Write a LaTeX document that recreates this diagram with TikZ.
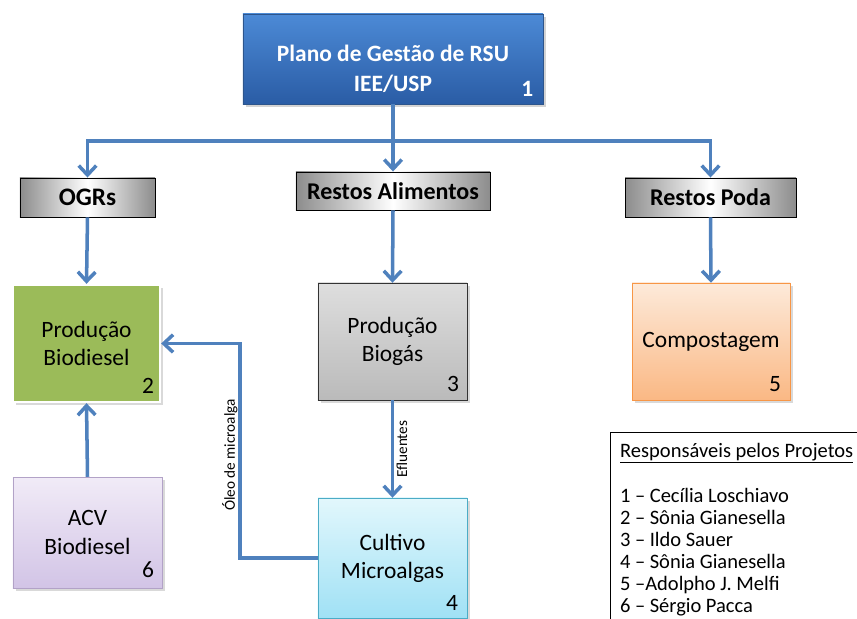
\documentclass[tikz,border=0pt]{standalone}
\usepackage{fontspec}
\setmainfont{Carlito}
\usetikzlibrary{shadows}
\usetikzlibrary{positioning}
\usetikzlibrary{arrows.meta,shapes}
\usetikzlibrary{calc}

\definecolor{setaazul}{RGB}{79,129,189}
\definecolor{azulclaro}{RGB}{76,138,214}
\definecolor{azulescuro}{RGB}{42,92,165}
\definecolor{bordaazul}{RGB}{45,85,140}
\definecolor{verde}{RGB}{155,187,89}
\definecolor{pessego}{RGB}{253,234,218}
\definecolor{laranja}{RGB}{250,184,132}
\definecolor{bordalaranja}{RGB}{247,150,70}
\definecolor{cianoclaro}{RGB}{226,247,252}
\definecolor{ciano}{RGB}{160,225,245}
\definecolor{bordaciano}{RGB}{75,172,198}
\definecolor{lilasclaro}{RGB}{241,235,247}
\definecolor{lilas}{RGB}{210,196,230}
\definecolor{bordalilas}{RGB}{178,162,199}

\begin{document}
\begin{tikzpicture}
  [x=0.03cm,y=-0.03cm,
  flow/.style={setaazul,line width=3pt,-{Straight Barb[length=8pt,width=15pt]}},
  titulo/.style={rectangle,draw=bordaazul,thick,top color=azulclaro,bottom color=azulescuro,text=white,align=center,font=\fontsize{20}{25.6}\selectfont\bfseries,minimum width=9cm,minimum height=2.7cm,drop shadow={opacity=0.35}},
  categoria/.style={rectangle,draw=black,thick,left color=black!45,right color=black!45,middle color=white,font=\fontsize{20.5}{22}\selectfont\bfseries,inner sep=0pt,minimum height=1.17cm},
  caixa/.style={rectangle,align=center,inner sep=0pt,minimum width=4.47cm,minimum height=3.51cm,font=\fontsize{20}{24}\selectfont,drop shadow={opacity=0.3}},
  num/.style={anchor=south east,inner sep=0pt,font=\fontsize{20}{24}\selectfont},
  rotulo/.style={rotate=90,inner sep=2pt,text=black,font=\fontsize{13}{15}\selectfont},
  legenda/.style={draw=black,thin,align=left,text width=9cm,inner xsep=8.5pt,inner ysep=9pt,font=\fontsize{17.5}{18.8}\selectfont}]
  \useasboundingbox (0,0) rectangle (857,619);
  \clip (0,0) rectangle (857,619);

  % plano geral
  \node[titulo] (plano) at (393,59) {\rule{0pt}{30pt}Plano de Gest\~ao de RSU\\IEE/USP};
  \node[num,text=white,font=\fontsize{20}{24}\selectfont\bfseries] at ([shift={(-10,-8)}]plano.south east) {1};

  % tipos de residuo
  \node[categoria,minimum width=4.05cm,font=\fontsize{21.5}{22}\selectfont\bfseries] (ogr) at (87.5,197.5) {OGRs};
  \node[categoria,minimum width=5.82cm,minimum height=1.14cm] (alim) at (393,191) {Restos Alimentos};
  \node[categoria,minimum width=5.13cm] (poda) at (710.5,197.5) {Restos Poda};

  % projetos
  \node[caixa,fill=verde,draw=white,line width=2pt,minimum width=4.41cm] (biodiesel) at (86.5,343.5) {Produ\c{c}\~ao\\Biodiesel};
  \node[num] at ([shift={(-7,-9)}]biodiesel.south east) {2};
  \node[caixa,draw=black!80,top color=black!13,bottom color=black!27] (biogas) at (392.5,341.5) {Produ\c{c}\~ao\\Biog\'as};
  \node[num] at ([shift={(-8,-8)}]biogas.south east) {3};
  \node[caixa,draw=bordalaranja,top color=pessego,bottom color=laranja,minimum width=4.74cm] (compost) at (711,341.5) {Compostagem};
  \node[num] at ([shift={(-9,-8)}]compost.south east) {5};
  \node[caixa,draw=bordaciano,top color=cianoclaro,bottom color=ciano,minimum height=3.6cm] (cultivo) at (392.5,558) {Cultivo\\Microalgas};
  \node[num] at ([shift={(-9,-8)}]cultivo.south east) {4};
  \node[caixa,draw=bordalilas,top color=lilasclaro,bottom color=lilas,minimum height=3.33cm] (acv) at (87.5,532.5) {ACV\\Biodiesel};
  \node[num] at ([shift={(-8,-10)}]acv.south east) {6};

  % responsaveis
  \node[legenda,anchor=north west] (resp) at (610,432) {\spaceskip=0.22em plus 0.1em\relax
    \underline{Respons\'aveis pelos Projetos}\\[20pt]
    1 -- Cec\'ilia Loschiavo\\
    2 -- S\^onia Gianesella\\
    3 -- Ildo Sauer\\
    4 -- S\^onia Gianesella\\
    5 --Adolpho J. Melfi\\
    6 -- S\'ergio Pacca};

  % ligacoes
  \coordinate (split) at (393,141);
  \coordinate (oleo) at (240,450);
  \draw[flow] (plano.south) -- (alim.north);
  \draw[flow] (split) -| (ogr.north);
  \draw[flow] (split) -| (poda.north);
  \draw[flow] (ogr.south) -- (biodiesel.north);
  \draw[flow] (alim.south) -- (biogas.north);
  \draw[flow] (poda.south) -- (compost.north);
  \draw[flow] (biogas.south) -- (cultivo.north) node[midway,rotulo,below] {Efluentes};
  \draw[flow] (cultivo.west) -| (oleo) |- (biodiesel.east);
  \node[rotulo,above] (oleotxt) at (240,455) {\'Oleo de microalga};
  \draw[flow] (acv.north) -- (biodiesel.south);

  \end{tikzpicture}
\end{document}
